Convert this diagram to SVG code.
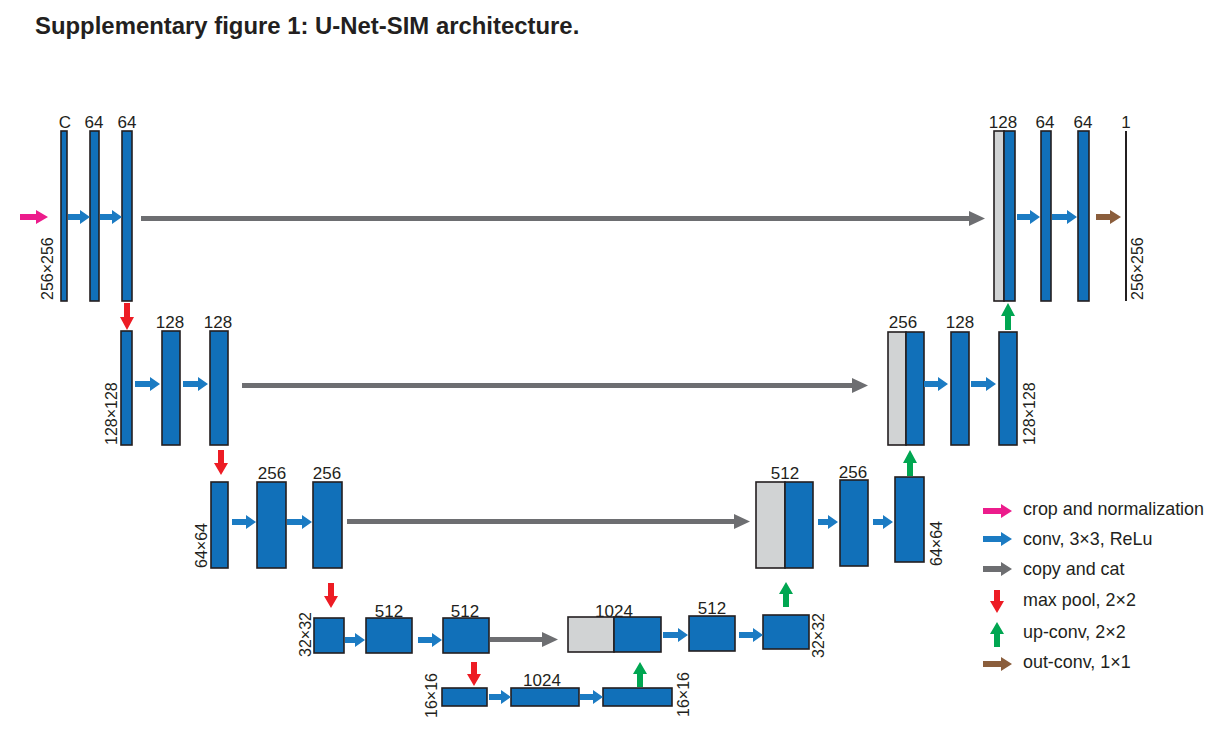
<svg xmlns="http://www.w3.org/2000/svg" width="1211" height="732" viewBox="0 0 1211 732">
<style>
.t{font-family:"Liberation Sans",Arial,sans-serif;fill:#231f20}
.title{font-size:23.9px;font-weight:bold}
.n{font-size:17px;text-anchor:middle}
.r{font-size:16px}
.lg{font-size:17.9px}
.b{fill:#1170b9;stroke:#231f20;stroke-width:1.6}
.g{fill:#d1d3d4;stroke:#231f20;stroke-width:1.6}
.ab{fill:#1b7bc3}
.ag{fill:#6d6e71}
.ap{fill:#ec1c8c}
.ar{fill:#ed1c24}
.agr{fill:#00a651}
.abr{fill:#8b5e3c}
</style>
<rect width="1211" height="732" fill="#fff"/>
<text class="t title" x="35" y="34">Supplementary figure 1: U-Net-SIM architecture.</text>

<g id="enc1">
<rect class="b" x="61" y="131" width="6" height="170"/>
<rect class="b" x="90" y="131" width="9" height="170"/>
<rect class="b" x="122" y="131" width="10" height="170"/>
<text class="t n" x="65" y="128">C</text>
<text class="t n" x="94" y="128">64</text>
<text class="t n" x="127" y="128">64</text>
<text class="t r" transform="translate(53,300) rotate(-90)">256×256</text>
</g>
<g id="enc2">
<rect class="b" x="121" y="331" width="11" height="114"/>
<rect class="b" x="162" y="331" width="18" height="114"/>
<rect class="b" x="210" y="331" width="18" height="114"/>
<text class="t n" x="170" y="328">128</text>
<text class="t n" x="218" y="328">128</text>
<text class="t r" transform="translate(117,445) rotate(-90)">128×128</text>
</g>
<g id="enc3">
<rect class="b" x="211" y="482" width="17" height="86"/>
<rect class="b" x="257" y="482" width="29" height="86"/>
<rect class="b" x="313" y="482" width="29" height="86"/>
<text class="t n" x="272" y="479">256</text>
<text class="t n" x="327" y="479">256</text>
<text class="t r" transform="translate(207,568) rotate(-90)">64×64</text>
</g>
<g id="enc4">
<rect class="b" x="314" y="618" width="30" height="35"/>
<rect class="b" x="366" y="618" width="46" height="35"/>
<rect class="b" x="443" y="618" width="46" height="35"/>
<text class="t n" x="389" y="617">512</text>
<text class="t n" x="465" y="617">512</text>
<text class="t r" transform="translate(311,657) rotate(-90)">32×32</text>
</g>
<g id="bottom">
<rect class="b" x="442" y="688" width="45" height="18"/>
<rect class="b" x="511" y="688" width="68" height="18"/>
<rect class="b" x="603" y="688" width="69" height="18"/>
<text class="t n" x="542" y="686">1024</text>
<text class="t r" transform="translate(437,718) rotate(-90)">16×16</text>
<text class="t r" transform="translate(689,717) rotate(-90)">16×16</text>
</g>
<g id="dec4">
<rect class="g" x="568" y="617" width="46" height="35"/>
<rect class="b" x="614" y="617" width="47" height="35"/>
<rect class="b" x="689" y="616" width="46" height="35"/>
<rect class="b" x="763" y="615" width="46" height="34"/>
<text class="t n" x="614" y="617">1024</text>
<text class="t n" x="712" y="614">512</text>
<text class="t r" transform="translate(824,658) rotate(-90)">32×32</text>
</g>
<g id="dec3">
<rect class="g" x="756" y="482" width="29" height="86"/>
<rect class="b" x="785" y="482" width="28" height="86"/>
<rect class="b" x="840" y="480" width="28" height="86"/>
<rect class="b" x="895" y="477" width="29" height="85"/>
<text class="t n" x="785" y="479">512</text>
<text class="t n" x="853" y="478">256</text>
<text class="t r" transform="translate(942,566) rotate(-90)">64×64</text>
</g>
<g id="dec2">
<rect class="g" x="888" y="332" width="18" height="113"/>
<rect class="b" x="906" y="332" width="18" height="113"/>
<rect class="b" x="951" y="332" width="18" height="113"/>
<rect class="b" x="999" y="332" width="18" height="113"/>
<text class="t n" x="903" y="328">256</text>
<text class="t n" x="960" y="328">128</text>
<text class="t r" transform="translate(1035,445) rotate(-90)">128×128</text>
</g>
<g id="dec1">
<rect class="g" x="994" y="131" width="10" height="170"/>
<rect class="b" x="1004" y="131" width="11" height="170"/>
<rect class="b" x="1041" y="131" width="10" height="170"/>
<rect class="b" x="1078" y="131" width="11" height="170"/>
<rect x="1125" y="131" width="2" height="170" fill="#231f20"/>
<text class="t n" x="1003" y="128">128</text>
<text class="t n" x="1045" y="128">64</text>
<text class="t n" x="1083" y="128">64</text>
<text class="t n" x="1126" y="128">1</text>
<text class="t r" transform="translate(1143,300) rotate(-90)">256×256</text>
</g>

<g id="connectors">
<path class="ap" d="M20,214 H36 V210 L48,217 L36,224 V220 H20 Z"/>
<path class="ab" d="M68,214 H80 V210 L90,217 L80,224 V220 H68 Z"/>
<path class="ab" d="M100,214 H112 V210 L122,217 L112,224 V220 H100 Z"/>
<path class="ab" d="M1017,214 H1030 V210 L1040,217 L1030,224 V220 H1017 Z"/>
<path class="ab" d="M1052,214 H1067 V210 L1077,217 L1067,224 V220 H1052 Z"/>
<path class="abr" d="M1096,214 H1110 V210 L1121,217 L1110,224 V220 H1096 Z"/>
<path class="ab" d="M135,381 H150 V377 L160,384 L150,391 V387 H135 Z"/>
<path class="ab" d="M183,381 H198 V377 L208,384 L198,391 V387 H183 Z"/>
<path class="ab" d="M924,381 H938 V377 L948,384 L938,391 V387 H924 Z"/>
<path class="ab" d="M971,381 H986 V377 L996,384 L986,391 V387 H971 Z"/>
<path class="ab" d="M232,519 H246 V515 L256,522 L246,529 V525 H232 Z"/>
<path class="ab" d="M287,519 H302 V515 L312,522 L302,529 V525 H287 Z"/>
<path class="ab" d="M818,519 H828 V515 L838,522 L828,529 V525 H818 Z"/>
<path class="ab" d="M873,519 H883 V515 L893,522 L883,529 V525 H873 Z"/>
<path class="ab" d="M345,637 H355 V633 L365,640 L355,647 V643 H345 Z"/>
<path class="ab" d="M418,637 H432 V633 L442,640 L432,647 V643 H418 Z"/>
<path class="ab" d="M663,632 H678 V628 L688,635 L678,642 V638 H663 Z"/>
<path class="ab" d="M739,632 H753 V628 L763,635 L753,642 V638 H739 Z"/>
<path class="ab" d="M489,694 H501 V690 L511,697 L501,704 V700 H489 Z"/>
<path class="ab" d="M580,694 H593 V690 L603,697 L593,704 V700 H580 Z"/>
<path class="ag" d="M141,216 H969 V211 L985,218.5 L969,226 V221 H141 Z"/>
<path class="ag" d="M242,383 H852 V378 L868,385.5 L852,393 V388 H242 Z"/>
<path class="ag" d="M347,519 H734 V514 L750,521.5 L734,529 V524 H347 Z"/>
<path class="ag" d="M490,637 H542 V632 L558,639.5 L542,647 V642 H490 Z"/>
<path class="ar" d="M124,303 V317 H120 L127,330 L134,317 H130 V303 Z"/>
<path class="ar" d="M218,450 V463 H214 L221,475 L228,463 H224 V450 Z"/>
<path class="ar" d="M328,583 V596 H324 L331,608 L338,596 H334 V583 Z"/>
<path class="ar" d="M471,662 V674 H467 L474,686 L481,674 H477 V662 Z"/>
<path class="agr" d="M637,687 V674 H633 L640,662 L647,674 H643 V687 Z"/>
<path class="agr" d="M783,607 V594 H779 L786,582 L793,594 H789 V607 Z"/>
<path class="agr" d="M907,476 V463 H903 L910,450 L917,463 H913 V476 Z"/>
<path class="agr" d="M1005,330 V316 H1001 L1008,303 L1015,316 H1011 V330 Z"/>
</g>

<g id="legend">
<path class="ap" d="M983,508 H1001 V504 L1012,511 L1001,518 V514 H983 Z"/>
<text class="t lg" x="1023" y="515">crop and normalization</text>
<path class="ab" d="M983,536 H1001 V532 L1012,539 L1001,546 V542 H983 Z"/>
<text class="t lg" x="1023" y="545">conv, 3×3, ReLu</text>
<path class="ag" d="M983,566 H1001 V562 L1012,569 L1001,576 V572 H983 Z"/>
<text class="t lg" x="1023" y="575">copy and cat</text>
<path class="ar" d="M994,590 V601 H990 L997,613 L1004,601 H1000 V590 Z"/>
<text class="t lg" x="1023" y="606">max pool, 2×2</text>
<path class="agr" d="M994,647 V634 H990 L997,622 L1004,634 H1000 V647 Z"/>
<text class="t lg" x="1023" y="638">up-conv, 2×2</text>
<path class="abr" d="M983,661 H1001 V657 L1012,664 L1001,671 V667 H983 Z"/>
<text class="t lg" x="1023" y="668">out-conv, 1×1</text>
</g>
</svg>
